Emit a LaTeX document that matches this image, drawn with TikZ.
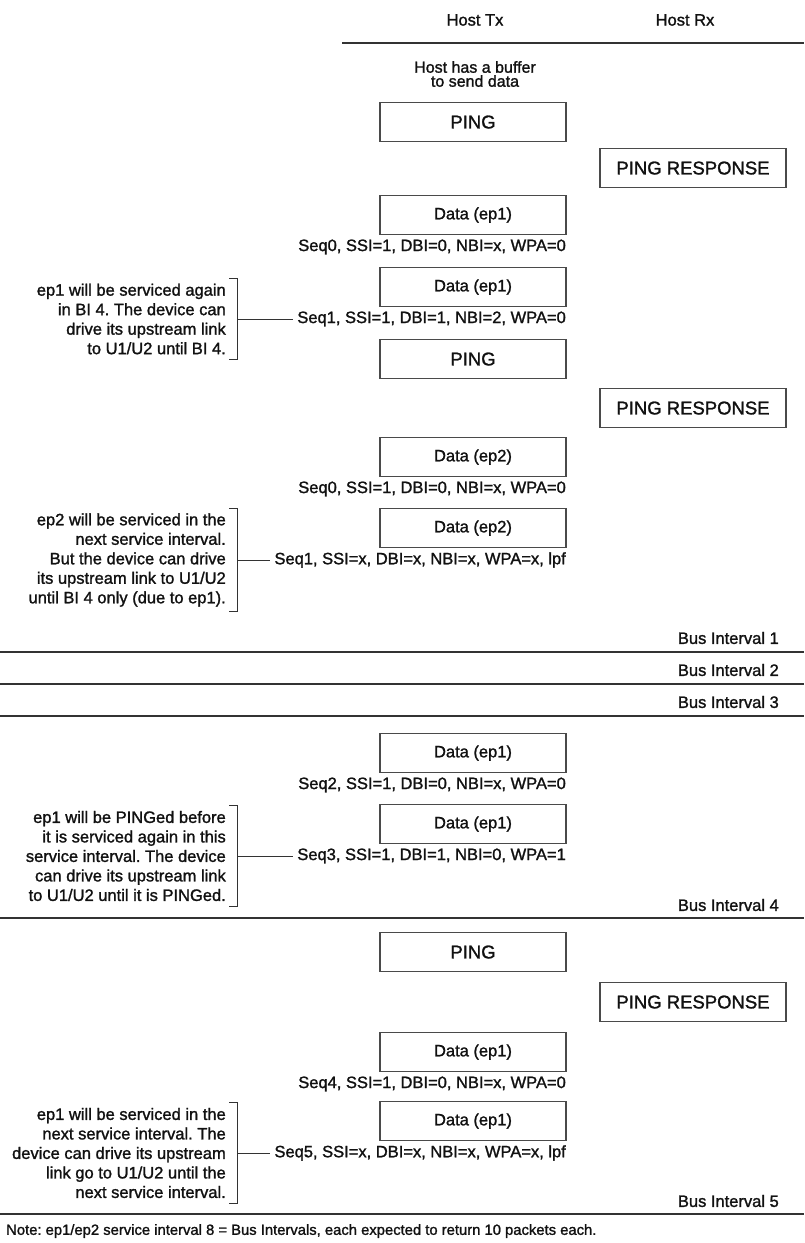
\documentclass[tikz,border=0pt]{standalone}
\usepackage{fontspec}
\setmainfont{Liberation Sans}[FakeBold=1.4]
\frenchspacing
\usepackage{xcolor}
\definecolor{cInk}{HTML}{111111}
\definecolor{cRule}{HTML}{333333}
\definecolor{cFrame}{HTML}{4A4A4A}
\usepackage{tikz}
\usetikzlibrary{positioning}
\tikzset{
  pkt-box/.style={draw=cFrame,line width=1.1pt,anchor=north,minimum width=186pt,
    minimum height=39pt,inner sep=0pt,text=cInk,font=\fontsize{16.5}{19}\selectfont},
  pkt-ping/.style={pkt-box,font=\fontsize{18.5}{21}\selectfont},
  seq-label/.style={anchor=east,inner sep=0pt,text=cInk,font=\fontsize{16.5}{19}\selectfont},
  side-note/.style={anchor=east,align=right,inner xsep=0pt,inner ysep=5pt,text=cInk,
    font=\fontsize{16.5}{19.5}\selectfont},
  head-label/.style={inner sep=0pt,text=cInk,font=\fontsize{16.5}{19}\selectfont},
  bus-label/.style={anchor=east,inner sep=0pt,text=cInk,font=\fontsize{16.5}{19}\selectfont},
  bus-rule/.style={draw=cRule,line width=1.3pt},
  bracket-line/.style={draw=cRule,line width=1pt},
}

\begin{document}
\begin{tikzpicture}[x=1pt,y=-1pt]
  \useasboundingbox (0,0) rectangle (804,1243);
  % header
  \node[head-label] (tx) at (475,20) {Host Tx};
  \node[head-label] (rx) at (685,20) {Host Rx};
  \draw[bus-rule] (342,43) -- (804,43);
  \node[head-label,align=center,font=\fontsize{16}{14}\selectfont] (buf) at (475,74)
    {Host has a buffer\\to send data};

  % bus interval 1
  \node[pkt-ping] (p1) at (473,102) {PING};
  \node[pkt-ping] (r1) at (693,148) {PING RESPONSE};
  \node[pkt-box] (d1) at (473,195) {Data (ep1)};
  \node[seq-label] (s1) at (566,247) {Seq0, SSI=1, DBI=0, NBI=x, WPA=0};
  \node[pkt-box] (d2) at (473,267) {Data (ep1)};
  \node[seq-label] (s2) at (566,319) {Seq1, SSI=1, DBI=1, NBI=2, WPA=0};
  \node[pkt-ping] (p2) at (473,339) {PING};
  \node[pkt-ping] (r2) at (693,388) {PING RESPONSE};
  \node[pkt-box] (d3) at (473,437) {Data (ep2)};
  \node[seq-label] (s3) at (566,489) {Seq0, SSI=1, DBI=0, NBI=x, WPA=0};
  \node[pkt-box] (d4) at (473,508) {Data (ep2)};
  \node[seq-label] (s4) at (566,560) {Seq1, SSI=x, DBI=x, NBI=x, WPA=x, lpf};

  \node[side-note] (n1) at (226,319) {ep1 will be serviced again\\in BI 4. The device can\\drive its upstream link\\to U1/U2 until BI 4.};
  \draw[bracket-line] ([xshift=3pt]n1.north east) -- ([xshift=11pt]n1.north east)
    -- ([xshift=11pt]n1.south east) -- ([xshift=3pt]n1.south east);
  \draw[bracket-line] ([xshift=11pt]n1.east) -- ([xshift=-4pt]s2.west);

  \node[side-note] (n2) at (226,560) {ep2 will be serviced in the\\next service interval.\\But the device can drive\\its upstream link to U1/U2\\until BI 4 only (due to ep1).};
  \draw[bracket-line] ([xshift=3pt]n2.north east) -- ([xshift=11pt]n2.north east)
    -- ([xshift=11pt]n2.south east) -- ([xshift=3pt]n2.south east);
  \draw[bracket-line] ([xshift=11pt]n2.east) -- ([xshift=-4pt]s4.west);

  \node[bus-label] (bi1) at (779,638) {Bus Interval 1};
  \draw[bus-rule] (0,652) -- (804,652);
  \node[bus-label] (bi2) at (779,670) {Bus Interval 2};
  \draw[bus-rule] (0,684) -- (804,684);
  \node[bus-label] (bi3) at (779,702) {Bus Interval 3};
  \draw[bus-rule] (0,716) -- (804,716);

  % bus interval 4
  \node[pkt-box] (d5) at (473,733) {Data (ep1)};
  \node[seq-label] (s5) at (566,785) {Seq2, SSI=1, DBI=0, NBI=x, WPA=0};
  \node[pkt-box] (d6) at (473,804) {Data (ep1)};
  \node[seq-label] (s6) at (566,856) {Seq3, SSI=1, DBI=1, NBI=0, WPA=1};

  \node[side-note] (n3) at (226,856) {ep1 will be PINGed before\\it is serviced again in this\\service interval. The device\\can drive its upstream link\\to U1/U2 until it is PINGed.};
  \draw[bracket-line] ([xshift=3pt]n3.north east) -- ([xshift=11pt]n3.north east)
    -- ([xshift=11pt]n3.south east) -- ([xshift=3pt]n3.south east);
  \draw[bracket-line] ([xshift=11pt]n3.east) -- ([xshift=-4pt]s6.west);

  \node[bus-label] (bi4) at (779,905) {Bus Interval 4};
  \draw[bus-rule] (0,918) -- (804,918);

  % bus interval 5
  \node[pkt-ping] (p3) at (473,932) {PING};
  \node[pkt-ping] (r3) at (693,982) {PING RESPONSE};
  \node[pkt-box] (d7) at (473,1032) {Data (ep1)};
  \node[seq-label] (s7) at (566,1084) {Seq4, SSI=1, DBI=0, NBI=x, WPA=0};
  \node[pkt-box] (d8) at (473,1101) {Data (ep1)};
  \node[seq-label] (s8) at (566,1153) {Seq5, SSI=x, DBI=x, NBI=x, WPA=x, lpf};

  \node[side-note] (n4) at (226,1153) {ep1 will be serviced in the\\next service interval. The\\device can drive its upstream\\link go to U1/U2 until the\\next service interval.};
  \draw[bracket-line] ([xshift=3pt]n4.north east) -- ([xshift=11pt]n4.north east)
    -- ([xshift=11pt]n4.south east) -- ([xshift=3pt]n4.south east);
  \draw[bracket-line] ([xshift=11pt]n4.east) -- ([xshift=-4pt]s8.west);

  \node[bus-label] (bi5) at (779,1201) {Bus Interval 5};
  \draw[bus-rule] (0,1214) -- (804,1214);

  \node[head-label,anchor=west,font=\fontsize{14.8}{17}\selectfont] (note) at (6,1231)
    {Note: ep1/ep2 service interval 8 = Bus Intervals, each expected to return 10 packets each.};
\end{tikzpicture}
\end{document}
